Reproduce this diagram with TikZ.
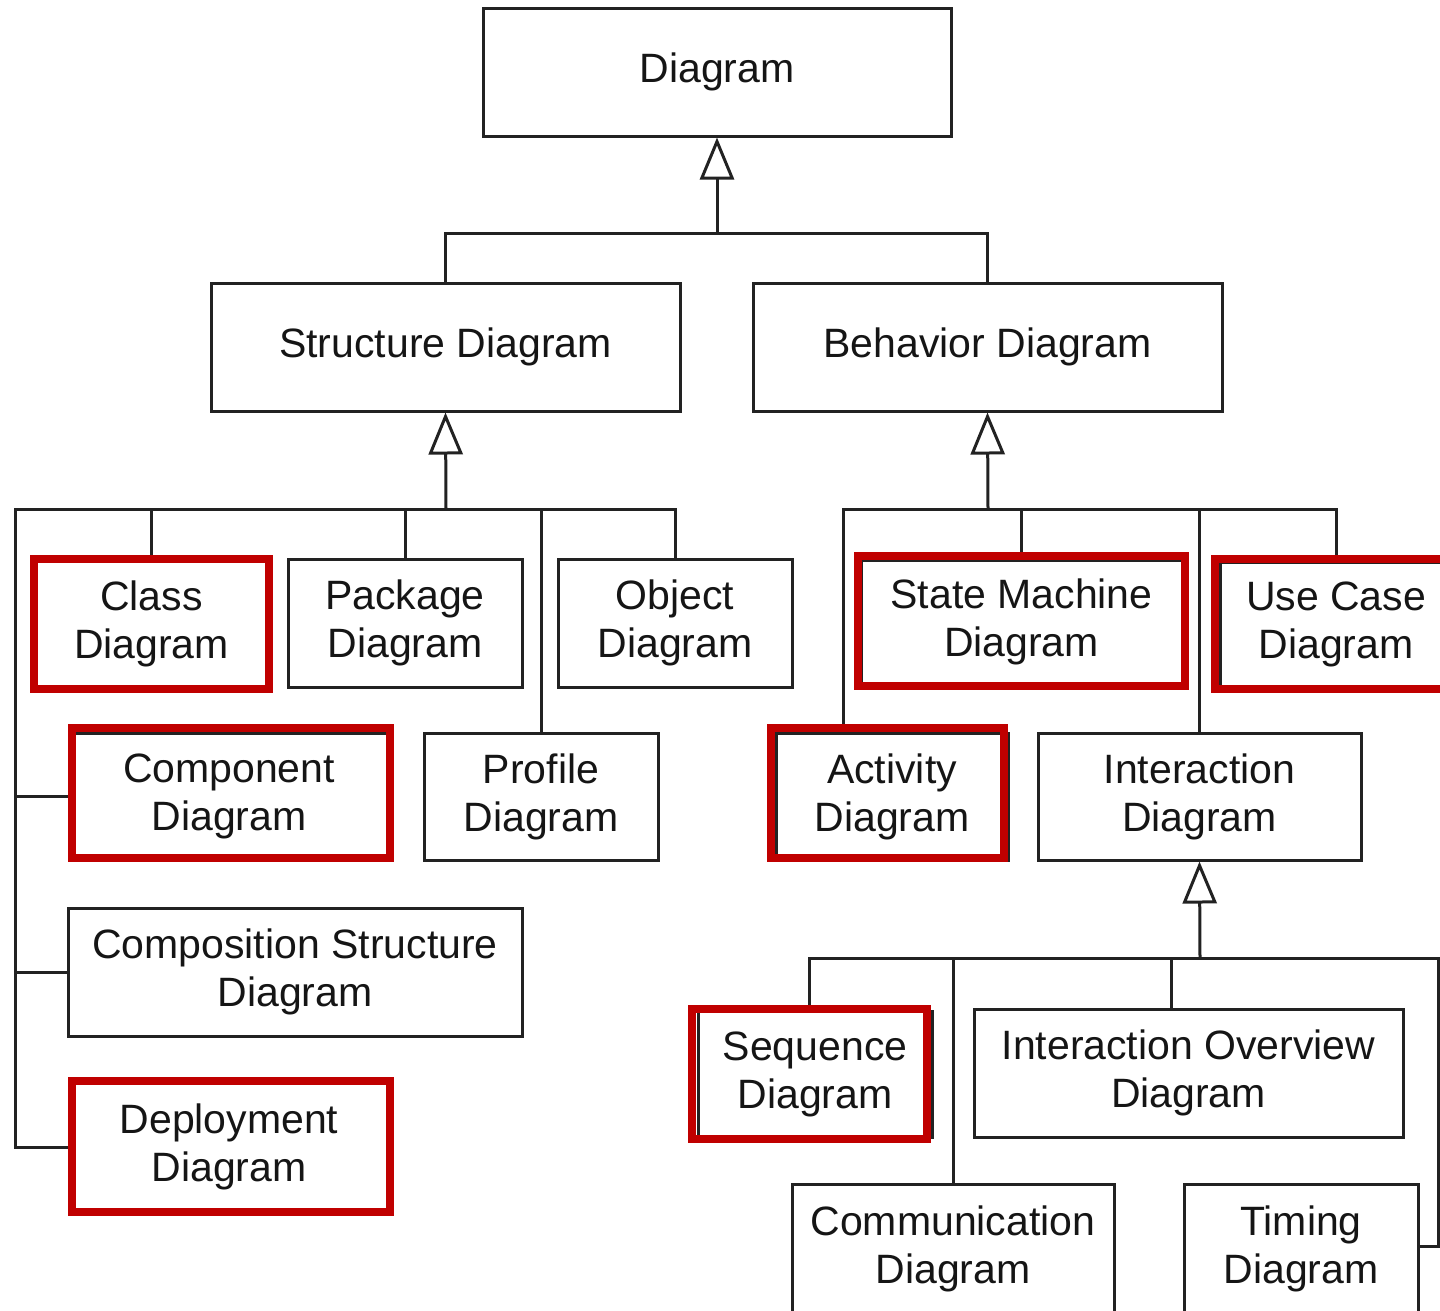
\documentclass[tikz,border=0pt]{standalone}
\usepackage{fontspec}
\setmainfont{Liberation Sans}
\usetikzlibrary{arrows.meta}
\definecolor{linec}{HTML}{222222}
\definecolor{textc}{HTML}{151515}
\definecolor{hlred}{HTML}{C00000}
\begin{document}
\begin{tikzpicture}[x=1pt,y=-1pt,
  box/.style={draw=linec, line width=3pt, align=center, inner sep=0pt,
    text=textc, font=\fontsize{41}{48}\selectfont},
  hlbox/.style={draw=hlred, line width=8pt, inner sep=0pt},
  conn/.style={draw=linec, line width=3pt},
  gen/.style={conn, -{Triangle[open, length=42pt, width=34pt, line join=miter]}}]
\useasboundingbox (0,0) rectangle (1440,1310);
\clip (0,0) rectangle (1440,1310);

% class boxes
\node[box, minimum width=468, minimum height=128] (diag) at (717,72) {Diagram};
\node[box, minimum width=469, minimum height=128] (sd) at (445.5,347) {Structure Diagram};
\node[box, minimum width=469, minimum height=128] (bd) at (987.5,347) {Behavior Diagram};

\node[box, minimum width=235, minimum height=130] (cls) at (151.5,624) {Class\\Diagram};
\node[box, minimum width=234, minimum height=128] (pkg) at (405,623) {Package\\Diagram};
\node[box, minimum width=234, minimum height=128] (obj) at (675,623) {Object\\Diagram};
\node[box, minimum width=320, minimum height=126] (comp) at (229,796) {Component\\Diagram};
\node[box, minimum width=234, minimum height=127] (prof) at (541,796.5) {Profile\\Diagram};
\node[box, minimum width=454, minimum height=128] (compo) at (295,972) {Composition Structure\\Diagram};
\node[box, minimum width=320, minimum height=130] (depl) at (229,1147) {Deployment\\Diagram};

\node[box, minimum width=321, minimum height=124] (stm) at (1021.5,622) {State Machine\\Diagram};
\node[box, minimum width=232, minimum height=124] (uc) at (1336,624) {Use Case\\Diagram};
\node[box, minimum width=232, minimum height=127] (act) at (892,796.5) {Activity\\Diagram};
\node[box, minimum width=323, minimum height=127] (inter) at (1199.5,796.5) {Interaction\\Diagram};
\node[box, minimum width=234, minimum height=126] (seq) at (815,1074) {Sequence\\Diagram};
\node[box, minimum width=429, minimum height=128] (io) at (1188.5,1073) {Interaction Overview\\Diagram};
\node[box, minimum width=322, minimum height=130] (comm) at (953,1249) {Communication\\Diagram};
\node[box, minimum width=234, minimum height=130] (tim) at (1301,1249) {Timing\\Diagram};

% junction points of the generalization trees
\coordinate (b1) at (717,233);
\coordinate (b2) at (446,509);
\coordinate (sl) at (15,509);
\coordinate (b2r) at (988,509);
\coordinate (b3) at (1200,958);
\coordinate (b3e) at (1438,958);

% Diagram
\draw[conn] (sd.north) |- (b1) -| (bd.north);
\draw[gen] (b1) -- (diag.south);

% Structure Diagram
\draw[conn] (depl.west) -| (sl) -| (obj.north);
\draw[conn] (comp.west) -- (comp.west -| sl);
\draw[conn] (compo.west) -- (compo.west -| sl);
\draw[conn] (cls.north) -- (cls.north |- sl);
\draw[conn] (pkg.north) -- (pkg.north |- sl);
\draw[conn] (prof.north) -- (prof.north |- sl);
\draw[gen] (b2) -- (sd.south);

% Behavior Diagram
\draw[conn] ([xshift=-49pt]act.north) |- (uc.north |- b2r) -- (uc.north);
\draw[conn] (stm.north) -- (stm.north |- b2r);
\draw[conn] (inter.north) -- (inter.north |- b2r);
\draw[gen] (b2r) -- (bd.south);

% Interaction Diagram
\draw[conn] ([xshift=-6pt]seq.north) |- (b3e) |- ([yshift=3pt]tim.east);
\draw[conn] (comm.north) -- (comm.north |- b3);
\draw[conn] ([xshift=-17.5pt]io.north) -- ([xshift=-17.5pt]io.north |- b3);
\draw[gen] (b3) -- (inter.south);

% highlighted diagram kinds
\node[hlbox, minimum width=235, minimum height=130] (clsH) at (151.5,624) {};
\node[hlbox, minimum width=318, minimum height=130] (compH) at (231,793) {};
\node[hlbox, minimum width=318, minimum height=131] (deplH) at (231,1146.5) {};
\node[hlbox, minimum width=327, minimum height=130] (stmH) at (1021.5,621) {};
\node[hlbox, minimum width=245, minimum height=130] (ucH) at (1337.5,624) {};
\node[hlbox, minimum width=233, minimum height=130] (actH) at (887.5,793) {};
\node[hlbox, minimum width=235, minimum height=130] (seqH) at (809.5,1074) {};
\end{tikzpicture}
\end{document}
